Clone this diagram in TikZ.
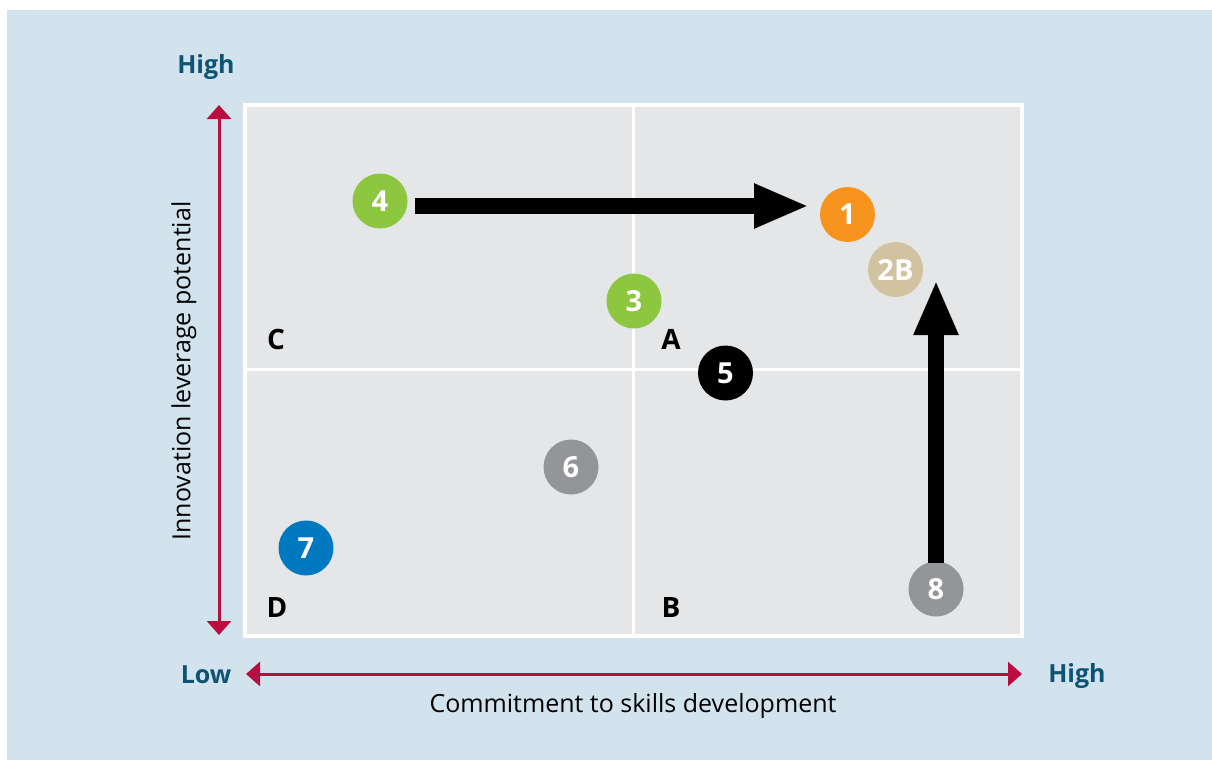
\documentclass[tikz,border=0pt]{standalone}
\usepackage{fontspec}
\setmainfont{Open Sans}
\usetikzlibrary{arrows.meta}
\definecolor{bgblue}{HTML}{D3E3ED}
\definecolor{plotgrey}{HTML}{E5E6E8}
\definecolor{axisred}{HTML}{BA0C3F}
\definecolor{teal}{HTML}{0D5373}
\definecolor{cgreen}{HTML}{8DC63F}
\definecolor{corange}{HTML}{F7941D}
\definecolor{ctan}{HTML}{D1C3A0}
\definecolor{cgrey}{HTML}{939598}
\definecolor{cblue}{HTML}{0079C1}
\tikzset{
  dot/.style={circle, minimum size=55pt, inner sep=0pt, text=white, font=\fontsize{29}{30}\selectfont\bfseries},
  quad/.style={font=\fontsize{28}{30}\selectfont\bfseries, text=black},
  lvl/.style={font=\fontsize{25}{28}\selectfont\bfseries, text=teal},
  axlabel/.style={font=\fontsize{25}{28}\selectfont, text=black},
  redaxis/.style={draw=axisred, line width=3pt, {Triangle[width=24pt,length=14pt]}-{Triangle[width=24pt,length=14pt]}},
  bigarrow/.style={draw=black, line width=16pt, -{Triangle[width=41pt,length=55pt]}}
}
\begin{document}
\begin{tikzpicture}[x=1pt,y=-1pt]
\useasboundingbox (0,0) rectangle (1212,760);
\fill[white] (0,0) rectangle (1212,760);
\fill[bgblue] (7,10) rectangle (1212,760);
% plot area
\draw[fill=plotgrey, draw=white, line width=4pt] (245,105) rectangle (1022,636);
\draw[white, line width=3pt] (633,105) -- (633,636);
\draw[white, line width=3pt] (245,369.5) -- (1022,369.5);
% axes
\coordinate (vtop) at (219,105);
\coordinate (vbot) at (219,635);
\coordinate (hleft) at (246,674);
\coordinate (hright) at (1022,674);
\draw[redaxis] (vtop) -- (vbot);
\draw[redaxis] (hleft) -- (hright);
\node[lvl] (hightop) at (206,67) {High};
\node[lvl] (low) at (206,675) {Low};
\node[lvl] (highright) at (1077,676) {High};
\node[axlabel] (xlab) at (633,706) {Commitment to skills development};
\node[axlabel, rotate=90] (ylab) at (184,371) {Innovation leverage potential};
% quadrant letters
\node[quad] (qc) at (276,339) {C};
\node[quad] (qa) at (671,339) {A};
\node[quad] (qd) at (277,607) {D};
\node[quad] (qb) at (671,607) {B};
% dots
\node[dot, fill=cgreen] (n4) at (380,201) {4};
\node[dot, fill=corange] (n1) at (847.5,214.5) {1};
\node[dot, fill=ctan] (n2b) at (895.5,269.5) {2B};
\node[dot, fill=cgreen] (n3) at (634,301) {3};
\node[dot, fill=black] (n5) at (725.5,373) {5};
\node[dot, fill=cgrey] (n6) at (571,467) {6};
\node[dot, fill=cblue] (n7) at (306,548) {7};
\node[dot, fill=cgrey] (n8) at (936,589) {8};
% big arrows
\coordinate (a4start) at (415,206);
\coordinate (a4end) at (809,206);
\draw[bigarrow] (a4start) -- (a4end);
\coordinate (a8start) at (936,563);
\coordinate (a8end) at (936,280);
\draw[bigarrow] (a8start) -- (a8end);
\end{tikzpicture}
\end{document}
